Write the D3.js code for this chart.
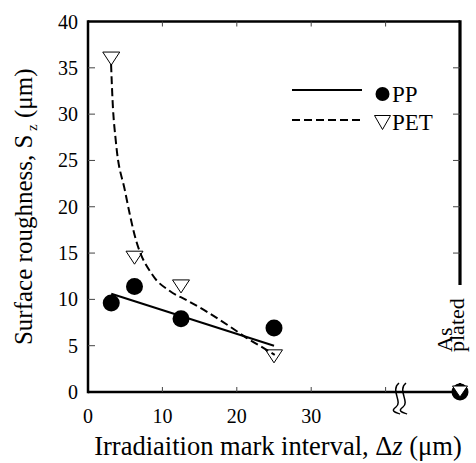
<!DOCTYPE html>
<html>
<head>
<meta charset="utf-8">
<script src="https://cdn.jsdelivr.net/npm/d3@7/dist/d3.min.js"></script>
<style>
  body { margin: 0; background: #fff; }
</style>
</head>
<body>
<script>
// data
var ppX = [3.125, 6.25, 12.5, 25];
var ppY = [9.6, 11.4, 7.9, 6.9];
var petX = [3.125, 6.25, 12.5, 25];
var petY = [36.0, 14.5, 11.4, 3.85];
// fitted lines as drawn
var ppFit = [[3.125, 10.6], [25, 5.0]];
var petFit = [[3.1, 35.4], [3.3, 31.5], [3.75, 27.0], [4.95, 21.8], [6.45, 16.4],
              [8.7, 12.6], [11.0, 10.9], [13.3, 9.9], [16.0, 8.65], [19.1, 7.05],
              [21.3, 5.85], [24.0, 4.55], [25.1, 4.0]];
var asPlated = { x: 50, pp: 0, pet: 0 };
var yTicks = [0, 5, 10, 15, 20, 25, 30, 35, 40];
var xTicks = [0, 10, 20, 30];
var xMinor = [10, 20, 30, 40];

var W = 476, H = 463;
var pLeft = 88, pRight = 460, pTop = 21.5, pBottom = 392;

var x = d3.scaleLinear().domain([0, 50]).range([pLeft, pRight]);
var y = d3.scaleLinear().domain([0, 40]).range([pBottom, pTop]);

var svg = d3.select("body").append("svg")
    .attr("width", W)
    .attr("height", H)
    .style("font-family", "'Liberation Serif'");

// frame
svg.append("line").attr("x1", pLeft).attr("x2", pRight).attr("y1", pTop).attr("y2", pTop)
    .attr("stroke", "#000").attr("stroke-width", 2.5);
svg.append("line").attr("x1", pLeft).attr("x2", pRight).attr("y1", pBottom).attr("y2", pBottom)
    .attr("stroke", "#000").attr("stroke-width", 2.5);
svg.append("line").attr("x1", pLeft).attr("x2", pLeft).attr("y1", pTop - 1.2).attr("y2", pBottom + 1.2)
    .attr("stroke", "#000").attr("stroke-width", 2.5);
// right axis, interrupted for the "As plated" label
svg.append("line").attr("x1", pRight).attr("x2", pRight).attr("y1", pTop - 1.2).attr("y2", 285)
    .attr("stroke", "#000").attr("stroke-width", 3.2);
svg.append("line").attr("x1", pRight).attr("x2", pRight).attr("y1", 383).attr("y2", pBottom)
    .attr("stroke", "#000").attr("stroke-width", 2.5);

// y ticks (inside, both sides)
var yt = yTicks.filter(function(d) { return d > 0 && d < 40; });
svg.selectAll(".ytl").data(yt).enter().append("line")
    .attr("x1", pLeft).attr("x2", pLeft + 7)
    .attr("y1", function(d) { return y(d); }).attr("y2", function(d) { return y(d); })
    .attr("stroke", "#444").attr("stroke-width", 1);
svg.selectAll(".ytr").data(yt.filter(function(d) { return y(d) < 285; })).enter().append("line")
    .attr("x1", pRight - 7).attr("x2", pRight)
    .attr("y1", function(d) { return y(d); }).attr("y2", function(d) { return y(d); })
    .attr("stroke", "#444").attr("stroke-width", 1);

// x ticks top and bottom
svg.selectAll(".xtt").data(xMinor).enter().append("line")
    .attr("x1", function(d) { return x(d); }).attr("x2", function(d) { return x(d); })
    .attr("y1", pTop).attr("y2", pTop + 5)
    .attr("stroke", "#444").attr("stroke-width", 1);
svg.selectAll(".xtb").data(xMinor).enter().append("line")
    .attr("x1", function(d) { return x(d); }).attr("x2", function(d) { return x(d); })
    .attr("y1", pBottom - 5).attr("y2", pBottom)
    .attr("stroke", "#444").attr("stroke-width", 1);

// tick labels
svg.selectAll(".ylab").data(yTicks).enter().append("text")
    .attr("x", 78)
    .attr("y", function(d) { return y(d); })
    .attr("dy", "0.35em")
    .attr("text-anchor", "end")
    .style("font-size", "20px")
    .text(function(d) { return d; });
svg.selectAll(".xlab").data(xTicks).enter().append("text")
    .attr("x", function(d) { return x(d); })
    .attr("y", 423)
    .attr("text-anchor", "middle")
    .style("font-size", "20px")
    .text(function(d) { return d; });

// axis break
[396, 403].forEach(function(bx) {
    svg.append("path")
        .attr("d", "M" + (bx + 3) + ",383 C" + (bx - 6) + ",390 " + (bx + 7) + ",402 " + bx + ",407"
            + " S" + (bx + 2) + ",413 " + (bx + 4) + ",414")
        .attr("fill", "none").attr("stroke", "#000").attr("stroke-width", 1.5);
});

// titles
var ytt = svg.append("text")
    .attr("transform", "translate(32," + ((pTop + pBottom) / 2) + ") rotate(-90)")
    .attr("text-anchor", "middle")
    .style("font-size", "25px");
ytt.append("tspan").text("Surface roughness, S");
ytt.append("tspan").attr("dy", 5).style("font-size", "15px").text(" z");
ytt.append("tspan").attr("dy", -5).text(" (\u03bcm)");

var xtt = svg.append("text")
    .attr("x", 278).attr("y", 455)
    .attr("text-anchor", "middle")
    .style("font-size", "26.5px");
xtt.append("tspan").text("Irradiaition mark interval, \u0394");
xtt.append("tspan").style("font-style", "italic").text("z");
xtt.append("tspan").text(" (\u03bcm)");

// "As plated"
var ap = svg.append("text")
    .attr("transform", "translate(452,352) rotate(-90)")
    .style("font-size", "22px");
ap.append("tspan").attr("x", 0).attr("y", 0).text("As");
ap.append("tspan").attr("x", 0).attr("y", 12).text("plated");

// fit lines
var line = d3.line()
    .x(function(d) { return x(d[0]); })
    .y(function(d) { return y(d[1]); });
svg.append("path").datum(ppFit)
    .attr("d", line)
    .attr("fill", "none").attr("stroke", "#000").attr("stroke-width", 2);
svg.append("path").datum(petFit)
    .attr("d", line.curve(d3.curveMonotoneX))
    .attr("fill", "none").attr("stroke", "#000").attr("stroke-width", 2)
    .attr("stroke-dasharray", "8,4");

var tri = function(cx, cy, w, h) {
    return "M" + (cx - w / 2) + "," + (cy - h / 2) + "L" + (cx + w / 2) + "," + (cy - h / 2)
        + "L" + cx + "," + (cy + h / 2) + "Z";
};

// points
var ppData = ppX.map(function(d, i) { return { x: d, y: ppY[i] }; });
var petData = petX.map(function(d, i) { return { x: d, y: petY[i] }; });
svg.selectAll(".pp").data(ppData).enter().append("circle")
    .attr("cx", function(d) { return x(d.x); })
    .attr("cy", function(d) { return y(d.y); })
    .attr("r", 8.5)
    .attr("fill", "#000");
svg.selectAll(".pet").data(petData).enter().append("path")
    .attr("d", function(d) { return tri(x(d.x), y(d.y), 17, 13); })
    .attr("fill", "none").attr("stroke", "#000").attr("stroke-width", 1);

// as plated marker
svg.append("circle")
    .attr("cx", x(asPlated.x)).attr("cy", y(asPlated.pp))
    .attr("r", 8.5).attr("fill", "#000");
svg.append("path")
    .attr("d", tri(x(asPlated.x), y(asPlated.pet) - 0.5, 15, 11))
    .attr("fill", "#fff").attr("stroke", "#000").attr("stroke-width", 1);

// legend
svg.append("line").attr("x1", 292).attr("x2", 362).attr("y1", 90).attr("y2", 90)
    .attr("stroke", "#000").attr("stroke-width", 1.8);
svg.append("line").attr("x1", 292).attr("x2", 362).attr("y1", 120).attr("y2", 120)
    .attr("stroke", "#000").attr("stroke-width", 1.8).attr("stroke-dasharray", "8,4");
svg.append("circle").attr("cx", 382.5).attr("cy", 94).attr("r", 7)
    .attr("fill", "#000");
svg.append("path").attr("d", tri(382.5, 122.5, 16, 14))
    .attr("fill", "none").attr("stroke", "#000").attr("stroke-width", 1);
svg.append("text").attr("x", 392).attr("y", 101.5).style("font-size", "23px").text("PP");
svg.append("text").attr("x", 392).attr("y", 130).style("font-size", "23px").text("PET");
</script>
</body>
</html>
